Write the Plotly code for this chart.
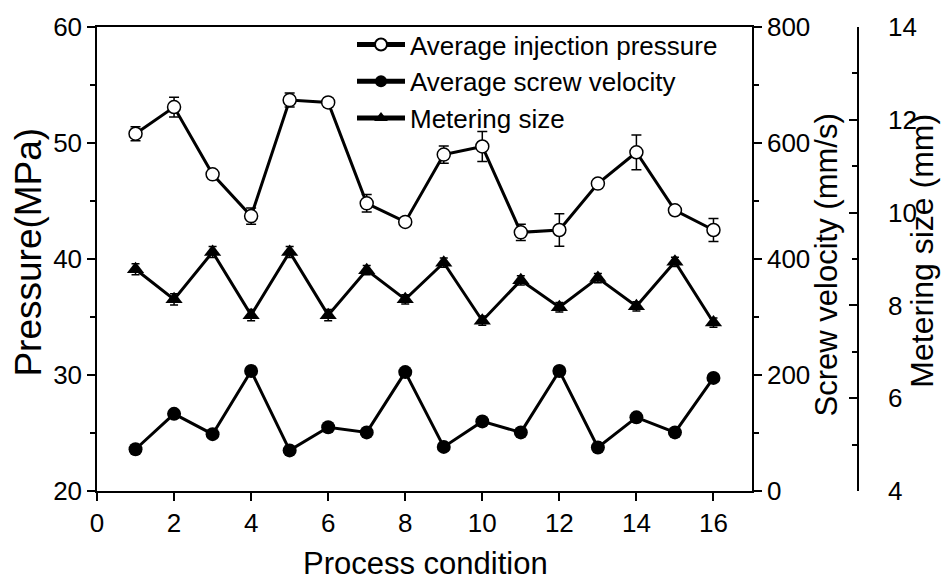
import plotly.graph_objects as go

conditions = list(range(1, 17))
pressure = [50.8, 53.1, 47.3, 43.7, 53.7, 53.5, 44.8, 43.2, 49.0, 49.7, 42.3, 42.5, 46.5, 49.2, 44.2, 42.5]
pressure_err = [0.6, 0.85, 0.25, 0.7, 0.6, 0.4, 0.75, 0.3, 0.75, 1.3, 0.7, 1.4, 0.35, 1.5, 0.25, 1.0]
velocity = [72, 133, 98, 207, 70, 110, 101, 205, 76, 120, 101, 207, 75, 127, 101, 195]
velocity_err = [2, 3, 2, 3, 2, 2, 2, 2, 2, 6, 2, 6, 2, 2, 2, 2]
metering = [8.78, 8.13, 9.15, 7.79, 9.15, 7.79, 8.76, 8.13, 8.92, 7.67, 8.54, 7.96, 8.59, 7.98, 8.94, 7.63]
metering_err = [0.12, 0.12, 0.12, 0.12, 0.12, 0.12, 0.1, 0.1, 0.1, 0.1, 0.1, 0.1, 0.1, 0.1, 0.1, 0.1]

FONT = "Liberation Sans, Arial, sans-serif"
W, H = 943, 585
L, R, T, B = 97, 20, 20, 94
PW = W - L - R
PH = H - T - B
XEND = (752 - L) / PW

def px(x):
    return (x - L) / PW

def py(y):
    return 1 - (y - T) / PH

fig = go.Figure()
fig.add_trace(go.Scatter(
    x=conditions, y=pressure, name="Average injection pressure", yaxis="y",
    mode="lines+markers",
    line=dict(color="black", width=3),
    marker=dict(symbol="circle", size=13, color="white", line=dict(color="black", width=1.5)),
    error_y=dict(type="data", array=pressure_err, color="black", thickness=1.5, width=5),
))
fig.add_trace(go.Scatter(
    x=conditions, y=velocity, name="Average screw velocity", yaxis="y2",
    mode="lines+markers",
    line=dict(color="black", width=3),
    marker=dict(symbol="circle", size=14, color="black"),
    error_y=dict(type="data", array=velocity_err, color="black", thickness=1.5, width=5),
))
fig.add_trace(go.Scatter(
    x=conditions, y=metering, name="Metering size", yaxis="y3",
    mode="lines+markers",
    line=dict(color="black", width=3),
    marker=dict(symbol="triangle-up", size=15, color="black"),
    error_y=dict(type="data", array=metering_err, color="black", thickness=1.5, width=4),
))

tickfont = dict(family=FONT, size=26, color="black")

fig.update_layout(
    width=W, height=H,
    margin=dict(l=L, r=R, t=T, b=B),
    paper_bgcolor="white", plot_bgcolor="white",
    font=dict(family=FONT, color="black"),
    showlegend=True,
    legend=dict(x=px(352), y=py(14), xanchor="left", yanchor="top",
                font=dict(family=FONT, size=26, color="black"),
                bgcolor="rgba(0,0,0,0)", itemwidth=48, tracegroupgap=0,
                itemsizing="constant"),
    xaxis=dict(domain=[0, XEND], range=[0, 17], tickvals=list(range(0, 17, 2)),
               showgrid=False, zeroline=False, showline=True, linecolor="black", linewidth=1.5,
               mirror=True, ticks="outside", ticklen=8, tickwidth=1.5, tickcolor="black",
               tickfont=tickfont),
    yaxis=dict(range=[20, 60], tickvals=[20, 30, 40, 50, 60],
               showgrid=False, zeroline=False, showline=True, linecolor="black", linewidth=1.5,
               ticks="outside", ticklen=8, tickwidth=1.5, tickcolor="black",
               minor=dict(tickvals=[25, 35, 45, 55], ticks="outside", ticklen=5, tickwidth=1.5, tickcolor="black"),
               tickfont=tickfont),
    yaxis2=dict(range=[0, 800], tickvals=[0, 200, 400, 600, 800], overlaying="y", side="right", anchor="x",
                showgrid=False, zeroline=False, showline=True, linecolor="black", linewidth=1.5,
                ticks="outside", ticklen=8, tickwidth=1.5, tickcolor="black",
                minor=dict(tickvals=[100, 300, 500, 700], ticks="outside", ticklen=5, tickwidth=1.5, tickcolor="black"),
                tickfont=tickfont),
    yaxis3=dict(range=[4, 14], tickvals=[4, 6, 8, 10, 12, 14], overlaying="y", side="right", anchor="free",
                position=px(858),
                showgrid=False, zeroline=False, showline=True, linecolor="black", linewidth=1.5,
                ticks="inside", ticklen=8, tickwidth=1.5, tickcolor="black",
                minor=dict(tickvals=[5, 7, 9, 11, 13], ticks="inside", ticklen=5, tickwidth=1.5, tickcolor="black"),
                ticklabelstandoff=24,
                tickfont=tickfont),
    annotations=[
        dict(text="Pressure(MPa)", x=px(29), y=py(249), xref="paper", yref="paper", textangle=-90,
             showarrow=False, xanchor="center", yanchor="middle", font=dict(family=FONT, size=37, color="black")),
        dict(text="Screw velocity (mm/s)", x=px(826), y=py(262), xref="paper", yref="paper", textangle=-90,
             showarrow=False, xanchor="center", yanchor="middle", font=dict(family=FONT, size=31, color="black")),
        dict(text="Metering size (mm)", x=px(922), y=py(247), xref="paper", yref="paper", textangle=-90,
             showarrow=False, xanchor="center", yanchor="middle", font=dict(family=FONT, size=32, color="black")),
        dict(text="Process condition", x=px(425), y=py(565), xref="paper", yref="paper",
             showarrow=False, xanchor="center", yanchor="middle", font=dict(family=FONT, size=31, color="black")),
    ],
)

fig.write_html("out.html")
